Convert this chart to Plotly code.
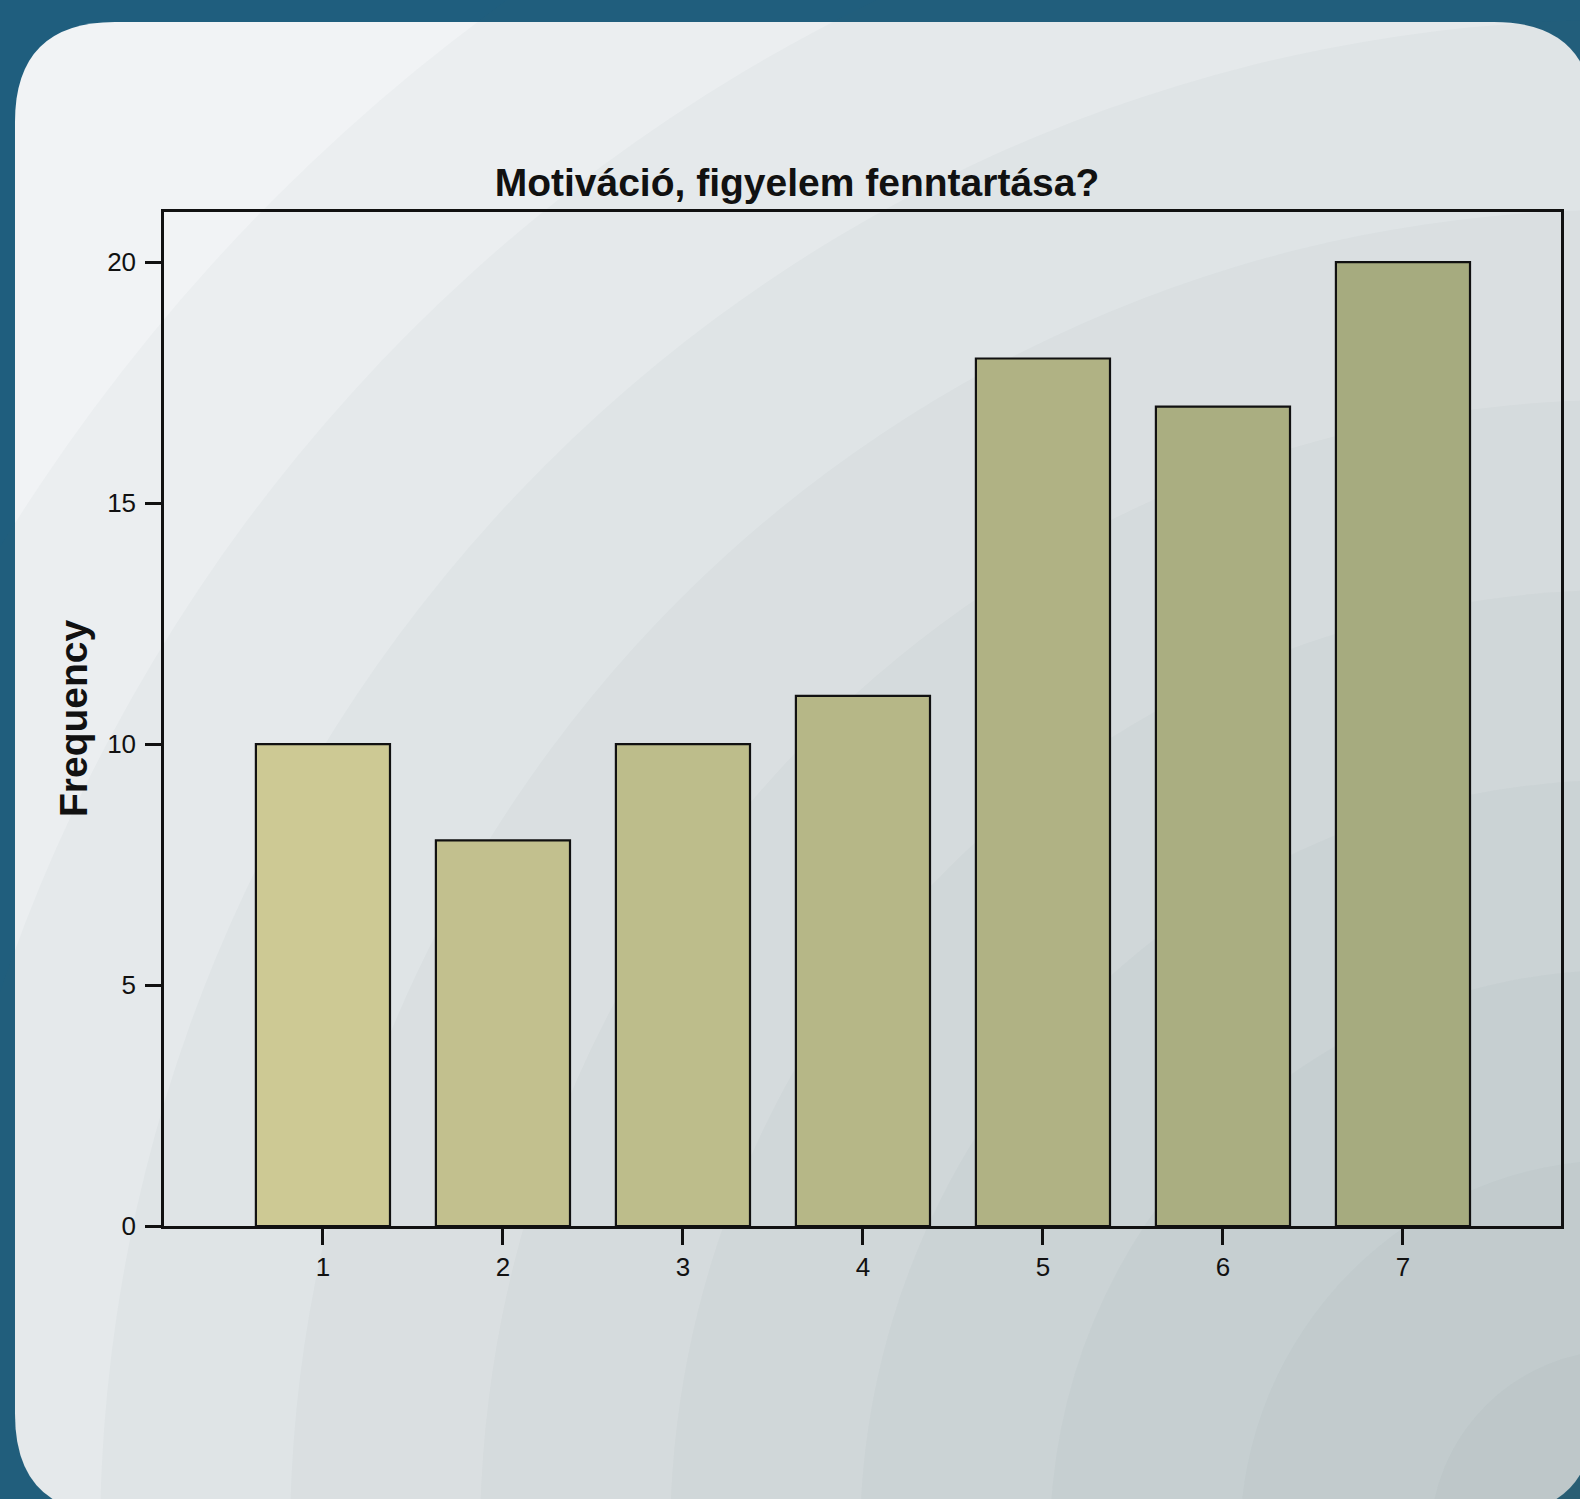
import plotly.graph_objects as go

categories = ["1", "2", "3", "4", "5", "6", "7"]
cat_pos = [1, 2, 3, 4, 5, 6, 7]
frequency = [10, 8, 10, 11, 18, 17, 20]
y_ticks = [0, 5, 10, 15, 20]

title_text = "Motiváció, figyelem fenntartása?"
y_title = "Frequency"

bar_colors = ["#cdc994", "#c2c08e", "#bdbd8b", "#b6b787", "#b0b284", "#aaae81", "#a6ab7f"]

W, H = 1580, 1499
L, R, T, B = 164, 1561, 212, 1226


def px(x):
    return (x - L) / (R - L)


def py(y):
    return (B - y) / (B - T)


def rounded_rect(x0, y0, x1, y1, r):
    pts = [
        ("M", [(x0 + r, y0)]),
        ("L", [(x1 - r, y0)]),
        ("Q", [(x1, y0), (x1, y0 + r)]),
        ("L", [(x1, y1 - r)]),
        ("Q", [(x1, y1), (x1 - r, y1)]),
        ("L", [(x0 + r, y1)]),
        ("Q", [(x0, y1), (x0, y1 - r)]),
        ("L", [(x0, y0 + r)]),
        ("Q", [(x0, y0), (x0 + r, y0)]),
    ]
    s = ""
    for cmd, ps in pts:
        s += cmd + " " + " ".join(f"{px(a):.5f},{py(b):.5f}" for a, b in ps) + " "
    return s + "Z"


shapes = []
# card
shapes.append(dict(type="path", xref="paper", yref="paper", layer="below",
                   path=rounded_rect(15, 22, 1594, 1514, 100),
                   fillcolor="#f1f3f5", line=dict(width=0)))
# soft shading towards bottom-right
cx, cy = 1620, 1540
for rad in range(1900, 0, -190):
    shapes.append(dict(type="circle", xref="paper", yref="paper", layer="below",
                       x0=px(cx - rad), x1=px(cx + rad), y0=py(cy + rad), y1=py(cy - rad),
                       fillcolor="rgba(80,112,126,0.035)", line=dict(width=0)))

fig = go.Figure()
fig.add_trace(go.Bar(
    x=cat_pos, y=frequency,
    marker=dict(color=bar_colors, line=dict(color="#111111", width=2.2)),
    width=0.745,
    hoverinfo="x+y",
))

font_family = "Liberation Sans, Arial, sans-serif"

fig.update_layout(
    width=W, height=H,
    margin=dict(l=L, r=W - R, t=T, b=H - B, pad=0),
    paper_bgcolor="#1f5e7e",
    plot_bgcolor="rgba(0,0,0,0)",
    showlegend=False,
    shapes=shapes,
    font=dict(family=font_family, color="#111111"),
    title=dict(text="<b>" + title_text + "</b>", xref="container", yref="container",
               x=797 / W, xanchor="center", y=1 - 182 / H, yanchor="middle",
               font=dict(size=39, color="#111111", family=font_family)),
    xaxis=dict(range=[0.117, 7.878], tickvals=cat_pos, ticktext=categories,
               showgrid=False, zeroline=False, showline=True, linecolor="#111111",
               linewidth=2.5, mirror=True, ticks="outside", ticklen=16, tickwidth=2.5,
               tickcolor="#111111", tickfont=dict(size=26, color="#111111"),
               ticklabelstandoff=0),
    yaxis=dict(range=[0, 21.04], tickvals=y_ticks, showgrid=False, zeroline=False,
               showline=True, linecolor="#111111", linewidth=2.5, mirror=True,
               ticks="outside", ticklen=16, tickwidth=2.5, tickcolor="#111111",
               tickfont=dict(size=26, color="#111111"), ticklabelstandoff=4),
    annotations=[dict(text="<b>" + y_title + "</b>", xref="paper", yref="paper",
                      x=px(73), y=py(718), xanchor="center", yanchor="middle",
                      textangle=-90, showarrow=False,
                      font=dict(size=39, color="#111111", family=font_family))],
)

fig.write_html(
    "out.html",
    config={"displayModeBar": False},
    post_script="document.body.style.margin='0';document.body.style.overflow='hidden';"
                "document.body.style.background='#1f5e7e';",
)
